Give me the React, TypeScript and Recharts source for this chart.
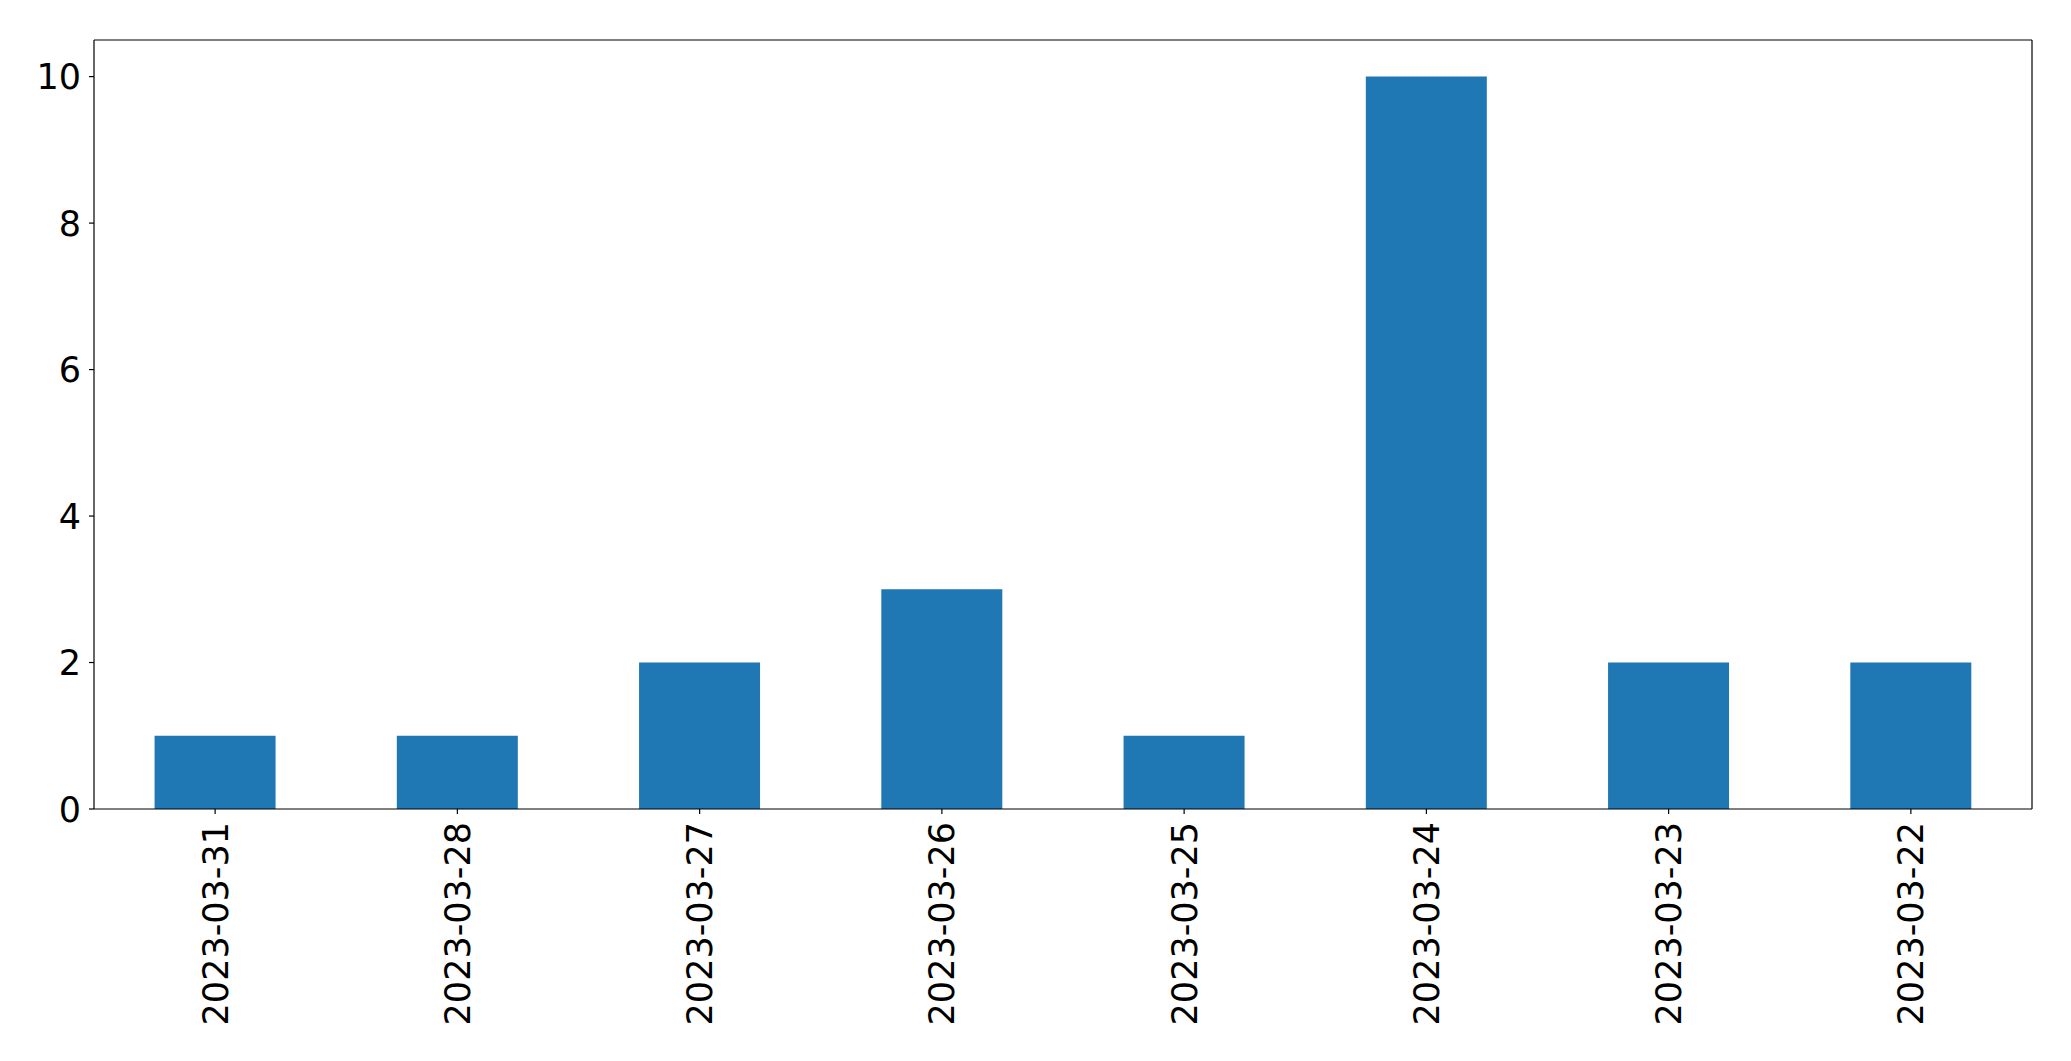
import React from "react";
import { BarChart, Bar, XAxis, YAxis } from "recharts";

const categories = ["2023-03-31", "2023-03-28", "2023-03-27", "2023-03-26", "2023-03-25", "2023-03-24", "2023-03-23", "2023-03-22"];
const counts = [1, 1, 2, 3, 1, 10, 2, 2];
const yTicks = [0, 2, 4, 6, 8, 10];

const data = categories.map((c, i) => ({ date: c, count: counts[i] }));

const FONT = "DejaVu Sans";
const FS = 35;
const LINE = { stroke: "#000", strokeWidth: 1.2 };

const XTick = (props: any) => {
  const { x, y, payload } = props;
  return (
    <text
      x={0}
      y={0}
      transform={`translate(${x},${y}) rotate(-90)`}
      textAnchor="end"
      dy="0.36em"
      fontFamily={FONT}
      fontSize={FS}
      fill="#000"
    >
      {payload.value}
    </text>
  );
};

const YTick = (props: any) => {
  const { x, y, payload } = props;
  return (
    <text x={x} y={y} dy="0.36em" textAnchor="end" fontFamily={FONT} fontSize={FS} fill="#000">
      {payload.value}
    </text>
  );
};

export default function App() {
  return (
    <div style={{ position: "absolute", left: 0, top: 0, background: "#fff" }}>
      <BarChart
        width={2071}
        height={1061}
        data={data}
        margin={{ top: 39, right: 38, left: 0, bottom: 0 }}
        barCategoryGap="25%"
      >
        <XAxis
          dataKey="date"
          height={252}
          tick={<XTick />}
          tickSize={5}
          tickMargin={8}
          interval={0}
          stroke="#000"
          tickLine={LINE}
          axisLine={LINE}
        />
        <XAxis
          xAxisId="top"
          dataKey="date"
          orientation="top"
          height={1}
          tick={false}
          tickLine={false}
          stroke="#000"
          axisLine={LINE}
        />
        <YAxis
          width={94}
          domain={[0, 10.5]}
          ticks={yTicks}
          tick={<YTick />}
          tickSize={5}
          tickMargin={8}
          interval={0}
          stroke="#000"
          tickLine={LINE}
          axisLine={LINE}
        />
        <YAxis
          yAxisId="right"
          orientation="right"
          width={1}
          domain={[0, 10.5]}
          tick={false}
          tickLine={false}
          stroke="#000"
          axisLine={LINE}
        />
        <Bar dataKey="count" fill="#1f77b4" isAnimationActive={false} />
      </BarChart>
    </div>
  );
}
